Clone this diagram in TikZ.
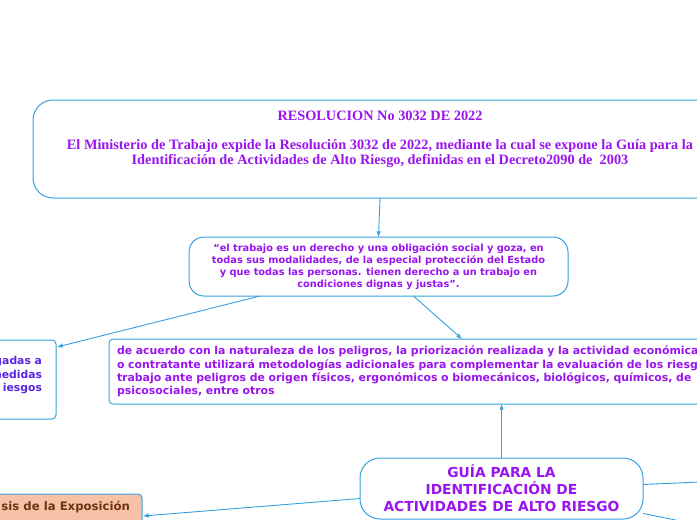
\documentclass[tikz,border=0pt]{standalone}
\usepackage{fontspec}
\setmainfont{DejaVu Sans}
\newfontfamily\resolfont{Liberation Serif}
\usetikzlibrary{arrows.meta,positioning}
\definecolor{mapblue}{HTML}{35A0E0}
\definecolor{mappurple}{HTML}{9A14F0}
\definecolor{mapindigo}{HTML}{5A24E6}
\definecolor{mapsalmon}{HTML}{F9C0A8}
\definecolor{mapbrown}{HTML}{6B3510}
\tikzset{
  base/.style={font=\bfseries, align=center, inner sep=0pt, outer sep=0mm},
  bigbox/.style={rectangle, draw=mapblue, line width=1pt, rounded corners=20pt, fill=white, base},
  quotebox/.style={rectangle, draw=mapblue, line width=1pt, rounded corners=15pt, fill=white, base},
  flatbox/.style={rectangle, draw=mapblue, line width=1pt, rounded corners=4pt, fill=white, base},
  arrow/.style={-{Latex[length=2mm,width=1.6mm]}, line width=0.9pt, color=mapblue},
  link/.style={line width=0.9pt, color=mapblue}
}
\begin{document}
\begin{tikzpicture}[x=1pt, y=-1pt]
  \useasboundingbox (0,0) rectangle (697,520);
  \clip (0,0) rectangle (697,520);

  % boxes
  \node[bigbox, minimum width=694pt, minimum height=98pt] (resol) at (380,149) {};
  \node[base, text=mappurple, font=\resolfont\bfseries\fontsize{14.3}{15}\selectfont] (resoltext) at (380,139)
    {RESOLUCION No 3032 DE 2022\\[14pt]
     El Ministerio de Trabajo expide la Resolución 3032 de 2022, mediante la cual se expone la Guía para la\\
     Identificación de Actividades de Alto Riesgo, definidas en el Decreto2090 de~~2003};

  \node[quotebox, minimum width=379pt, minimum height=59pt, text=mappurple,
        font=\bfseries\fontsize{9.8}{12}\selectfont] (quote) at (378.5,266.5)
    {“el trabajo es un derecho y una obligación social y goza, en\\
     todas sus modalidades, de la especial protección del Estado\\
     y que todas las personas. tienen derecho a un trabajo en\\
     condiciones dignas y justas”.};

  \node[flatbox, minimum width=110pt, minimum height=79pt] (medidas) at (1,379.5) {};
  \node[base, anchor=east, align=right, text=mapindigo, font=\bfseries\fontsize{10.8}{13.5}\selectfont]
    (medidastext) at (42,375.5) {gadas a\\ medidas\\ iesgos};

  \node[flatbox, anchor=north west, minimum height=65pt, text width=690pt, inner xsep=8pt,
        align=left, text=mappurple, font=\bfseries\fontsize{10.9}{13.4}\selectfont] (peligros) at (109,339)
    {de acuerdo con la naturaleza de los peligros, la priorización realizada y la actividad económica\\
     o contratante utilizará metodologías adicionales para complementar la evaluación de los riesgos\\
     trabajo ante peligros de origen físicos, ergonómicos o biomecánicos, biológicos, químicos, de\\
     psicosociales, entre otros};

  \node[bigbox, minimum width=283pt, minimum height=61pt, text=mappurple,
        font=\bfseries\fontsize{13.8}{17}\selectfont] (guia) at (501.5,488.5)
    {GUÍA PARA LA\\ IDENTIFICACIÓN DE\\ ACTIVIDADES DE ALTO RIESGO};

  \node[flatbox, fill=mapsalmon, anchor=north east, minimum width=160pt, minimum height=40pt] (expo) at (142,494) {};
  \node[base, anchor=east, text=mapbrown, font=\bfseries\fontsize{11.7}{14}\selectfont] (expotext) at (130,507)
    {sis de la Exposición};

  \coordinate (offright) at (700,482);
  \coordinate (offdown) at (700,525);

  % connectors
  \draw[arrow] (resol.south) -- (quote.north);
  \draw[arrow] (quote.194) -- ([xshift=1pt,yshift=-7pt]medidas.north east);
  \draw[arrow] ([xshift=35pt]quote.south) -- ([xshift=353pt]peligros.north west);
  \draw[arrow] (guia.north) -- (guia.north |- peligros.south);
  \draw[arrow] ([yshift=-10pt]guia.west) -- ([xshift=1pt,yshift=-2pt]expo.east);
  \draw[link] ([yshift=4pt]guia.east) -- (offright);
  \draw[link] (guia.-10.8) -- (offdown);
\end{tikzpicture}
\end{document}
